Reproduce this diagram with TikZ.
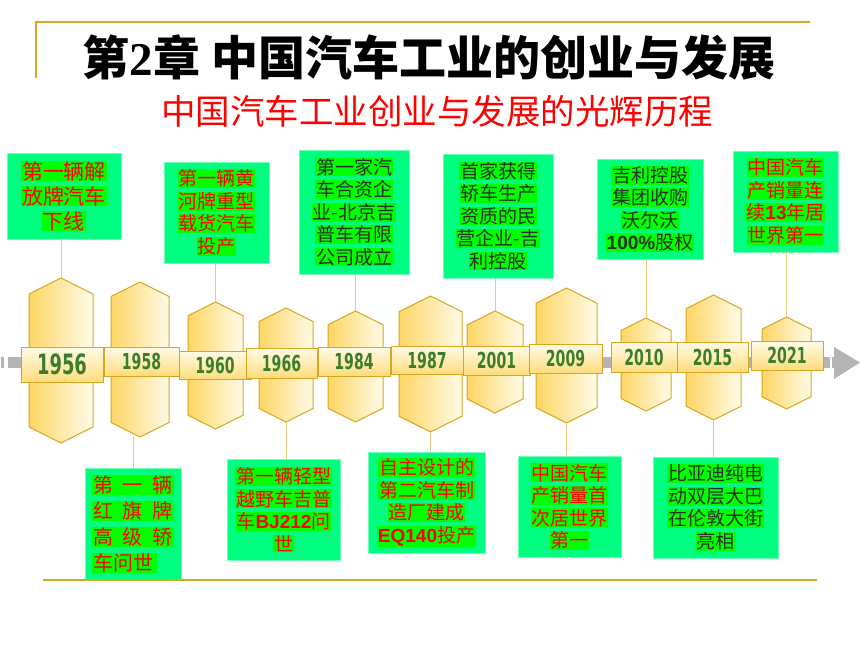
\documentclass[tikz,border=0pt]{standalone}
\usepackage{fontspec}
\usepackage{graphicx}
\usepackage{tikz}
\usetikzlibrary{shapes,arrows,positioning,fit,backgrounds}
\setmainfont{Noto Sans CJK SC}
\newfontfamily\latin{Liberation Sans}
\newfontfamily\serifnum{Liberation Serif}
\newfontfamily\yearfont{DejaVu Sans}
\definecolor{gold}{RGB}{218, 165, 32}
\definecolor{hexgold}{RGB}{253, 214, 100}
\definecolor{hexlight}{RGB}{255, 251, 232}
\definecolor{boxgreen}{RGB}{0, 255, 128}
\definecolor{hlgreen}{RGB}{0, 255, 0}
\definecolor{yeargreen}{RGB}{58, 125, 44}
\definecolor{darktext}{RGB}{40, 48, 40}
\definecolor{bargray}{RGB}{180, 180, 180}
\definecolor{linkgold}{RGB}{232, 202, 128}
\tikzstyle{hexa} = [draw=gold, line width=1pt, left color=hexgold, right color=hexlight]
\tikzstyle{yearbox} = [rectangle, draw=gold, line width=1pt, top color=hexlight, bottom color=hexgold!85, text=yeargreen, inner sep=0pt, font=\yearfont\bfseries\fontsize{22}{22}\selectfont]
\tikzstyle{note} = [rectangle, fill=boxgreen, draw=boxgreen!55!white, line width=0.8pt, align=center, inner sep=0pt, font=\fontsize{19}{22.5}\selectfont]
\tikzstyle{redtxt} = [text=red]
\tikzstyle{darktxt} = [text=darktext]
\tikzstyle{link} = [draw=linkgold, line width=1pt]
\newcommand{\hl}[1]{{\fboxsep=0.6pt\colorbox{hlgreen}{#1}}}
\newcommand{\lat}[1]{{\latin\bfseries #1}}
\newcommand{\yr}[1]{\scalebox{0.64}[1]{#1}}
% hexagon: name, centre x, top, bottom, half width
\newcommand{\hexagon}[5]{%
  \path[hexa] (#2,#3) -- (#2+#5,#3+0.5*#5) -- (#2+#5,#4-0.5*#5) -- (#2,#4)
    -- (#2-#5,#4-0.5*#5) -- (#2-#5,#3+0.5*#5) -- cycle;
  \coordinate (#1-t) at (#2,#3);
  \coordinate (#1-b) at (#2,#4);}

\begin{document}
\begin{tikzpicture}[x=1pt, y=-1pt]
\useasboundingbox (0,0) rectangle (860,645);

% title =============================
\draw[gold, line width=2pt] (36,78) -- (36,21.5) -- (810,21.5);
\node[font=\bfseries\fontsize{47}{47}\selectfont, text=black] (title) at (429,57.5) {第{\serifnum 2}章 中国汽车工业的创业与发展};
\node[font=\fontsize{34.5}{34.5}\selectfont, text=red] (subtitle) at (437,111) {中国汽车工业创业与发展的光辉历程};

% time axis =============================
\fill[bargray] (1,357) rectangle (4,368);
\fill[bargray] (8,357) rectangle (830,368);
\fill[bargray] (832,357) rectangle (834,368);
\fill[bargray] (834,347) -- (860,362.5) -- (834,379) -- cycle;

% hexagons
\hexagon{h1956}{61}{278}{443}{32}
\hexagon{h1958}{140}{282}{437}{29}
\hexagon{h1960}{215.5}{302}{429}{27.5}
\hexagon{h1966}{286}{308}{422}{27}
\hexagon{h1984}{355.5}{311}{422}{27.5}
\hexagon{h1987}{430.5}{296}{432}{31.5}
\hexagon{h2001}{495}{311}{413}{28}
\hexagon{h2009}{566.5}{288}{423}{30.5}
\hexagon{h2010}{646}{318}{411}{25}
\hexagon{h2015}{713.5}{295}{420}{27.5}
\hexagon{h2021}{786.5}{317}{409}{24.5}

% years
\node[yearbox, minimum width=82pt, minimum height=35pt, font=\yearfont\bfseries\fontsize{28}{28}\selectfont] (y1956) at (62,364.5) {\yr{1956}};
\node[yearbox, minimum width=75pt, minimum height=29pt] (y1958) at (141.5,361.5) {\yr{1958}};
\node[yearbox, minimum width=72pt, minimum height=28pt] (y1960) at (215,365) {\yr{1960}};
\node[yearbox, minimum width=71pt, minimum height=30pt] (y1966) at (281.5,363) {\yr{1966}};
\node[yearbox, minimum width=72pt, minimum height=29pt] (y1984) at (354,361.5) {\yr{1984}};
\node[yearbox, minimum width=72pt, minimum height=28pt] (y1987) at (427,360) {\yr{1987}};
\node[yearbox, minimum width=67pt, minimum height=29pt] (y2001) at (496.5,360.5) {\yr{2001}};
\node[yearbox, minimum width=73pt, minimum height=29pt] (y2009) at (565.5,358.5) {\yr{2009}};
\node[yearbox, minimum width=66pt, minimum height=30pt] (y2010) at (644,357) {\yr{2010}};
\node[yearbox, minimum width=71pt, minimum height=30pt] (y2015) at (712.5,357) {\yr{2015}};
\node[yearbox, minimum width=72pt, minimum height=29pt] (y2021) at (787,355.5) {\yr{2021}};

% events above =============================
\node[note, redtxt, minimum width=114pt, minimum height=86pt, font=\fontsize{21}{25}\selectfont] (n1956) at (64,196) {\hl{第一辆解}\\\hl{放牌汽车}\\\hl{下线}};
\node[note, redtxt, minimum width=105pt, minimum height=101pt] (n1960) at (216.5,212.5) {\hl{第一辆黄}\\\hl{河牌重型}\\\hl{载货汽车}\\\hl{投产}};
\node[note, darktxt, minimum width=110pt, minimum height=124pt] (n1984) at (354,212) {\hl{第一家汽}\\\hl{车合资企}\\\hl{业-北京吉}\\\hl{普车有限}\\\hl{公司成立}};
\node[note, darktxt, minimum width=110pt, minimum height=124pt] (n2001) at (498,216) {\hl{首家获得}\\\hl{轿车生产}\\\hl{资质的民}\\\hl{营企业-吉}\\\hl{利控股}};
\node[note, darktxt, minimum width=106pt, minimum height=100pt] (n2010) at (650,209) {\hl{吉利控股}\\\hl{集团收购}\\\hl{沃尔沃}\\\hl{\lat{100\%}股权}};
\node[note, redtxt, minimum width=105pt, minimum height=101pt] (n2021) at (785.5,201.5) {\hl{中国汽车}\\\hl{产销量连}\\\hl{续\lat{13}年居}\\\hl{世界第一}};

% events below =============================
\node[note, redtxt, align=left, minimum width=96pt, minimum height=112pt, font=\fontsize{20}{26}\selectfont] (n1958) at (133,524) {\hl{第\enspace 一\enspace 辆}\\\hl{红\enspace 旗\enspace 牌}\\\hl{高\enspace 级\enspace 轿}\\\hl{车问世\,}};
\node[note, redtxt, minimum width=113pt, minimum height=101pt] (n1966) at (283.5,509.5) {\hl{第一辆轻型}\\\hl{越野车吉普}\\\hl{车\lat{BJ212}问}\\\hl{世}};
\node[note, redtxt, minimum width=117pt, minimum height=101pt] (n1987) at (426.5,502.5) {\hl{自主设计的}\\\hl{第二汽车制}\\\hl{造厂建成}\\\hl{\lat{EQ140}投产}};
\node[note, redtxt, minimum width=103pt, minimum height=101pt] (n2009) at (569.5,506.5) {\hl{中国汽车}\\\hl{产销量首}\\\hl{次居世界}\\\hl{第一}};
\node[note, darktxt, minimum width=125pt, minimum height=101pt] (n2015) at (715.5,507.5) {\hl{比亚迪纯电}\\\hl{动双层大巴}\\\hl{在伦敦大街}\\\hl{亮相}};

% links
\path[link] (h1956-t) -- (h1956-t |- n1956.south);
\path[link] (h1960-t) -- (h1960-t |- n1960.south);
\path[link] (h1984-t) -- (h1984-t |- n1984.south);
\path[link] (h2001-t) -- (h2001-t |- n2001.south);
\path[link] (h2010-t) -- (h2010-t |- n2010.south);
\path[link] (h2021-t) -- (h2021-t |- n2021.south);

\path[link] (n1958.north) -- (n1958.north |- h1958-b);
\path[link] (h1966-b) -- (h1966-b |- n1966.north);
\path[link] (h1987-b) -- (h1987-b |- n1987.north);
\path[link] (h2009-b) -- (h2009-b |- n2009.north);
\path[link] (h2015-b) -- (h2015-b |- n2015.north);

\draw[gold, line width=2.5pt] (43,580) -- (817,580);

\end{tikzpicture}
\end{document}
